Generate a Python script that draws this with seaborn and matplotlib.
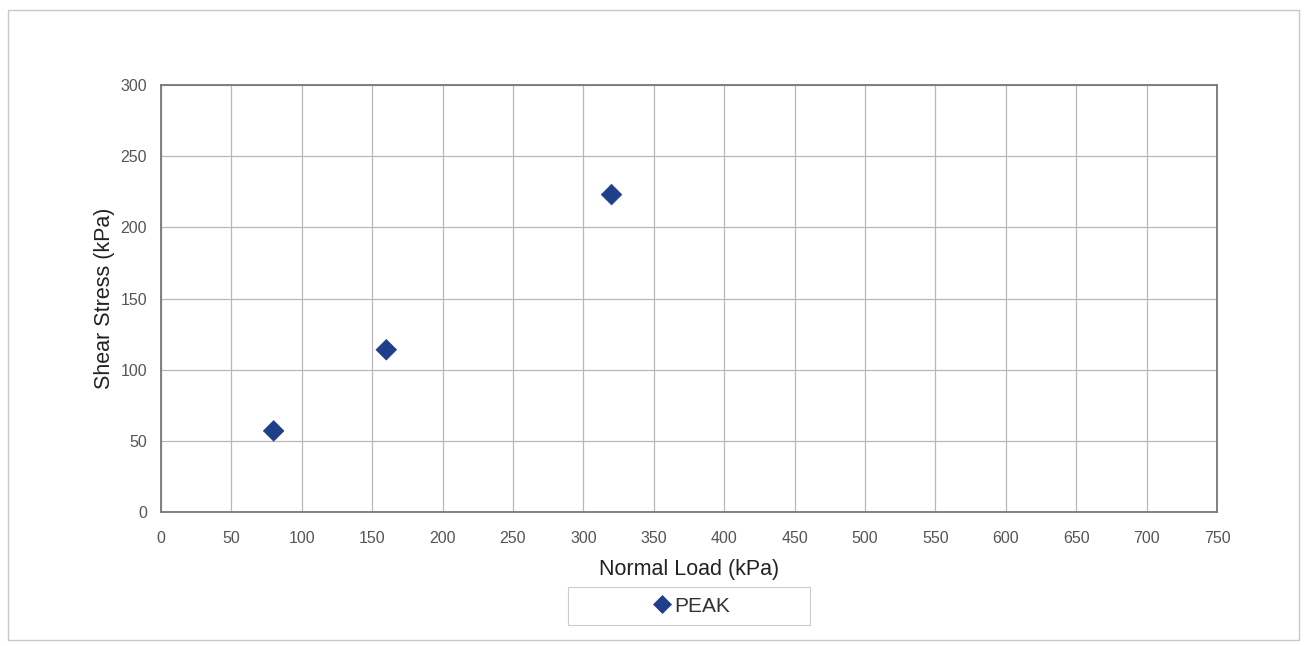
#!/usr/bin/env python3

import matplotlib

matplotlib.use("Agg")
import matplotlib.pyplot as plt
import pandas
import seaborn as sns
from matplotlib.patches import Rectangle

# Direct shear test results (peak)
normal_load = [80, 160, 320]
shear_stress = [57, 114, 223]
series_name = "PEAK"

x_ticks = list(range(0, 751, 50))
y_ticks = list(range(0, 301, 50))


def main():
    sns.set_theme(style="white")
    plt.rcParams["font.family"] = ["Liberation Sans", "DejaVu Sans"]

    df = pandas.DataFrame(
        {"load": normal_load, "stress": shear_stress, "series": series_name}
    )

    fig = plt.figure(figsize=(13.07, 6.46), dpi=100)
    ax = fig.add_axes([0.1232, 0.2074, 0.8079, 0.6610])

    sns.scatterplot(
        data=df,
        x="load",
        y="stress",
        hue="series",
        palette=["#1f3f8a"],
        marker="D",
        s=110,
        edgecolor="#1f3f8a",
        linewidth=0.5,
        ax=ax,
        zorder=3,
    )

    ax.set_xlim(0, 750)
    ax.set_ylim(0, 300)
    ax.set_xticks(x_ticks)
    ax.set_yticks(y_ticks)
    ax.tick_params(labelsize=11.5, colors="#555555", length=0)
    ax.tick_params(axis="x", pad=14)
    ax.tick_params(axis="y", pad=10)
    ax.grid(True, color="#b8b8b8", linewidth=0.9)
    for spine in ax.spines.values():
        spine.set_color("#777777")
        spine.set_linewidth(1.3)

    ax.set_xlabel("Normal Load (kPa)", fontsize=15.5, color="#222222", labelpad=9)
    ax.set_ylabel("Shear Stress (kPa)", fontsize=15.5, color="#222222", labelpad=4)

    # Legend box, wider than its content as in the source chart
    fig.patches.append(
        Rectangle(
            (0.4346, 0.0325),
            0.1852,
            0.0588,
            transform=fig.transFigure,
            fill=False,
            edgecolor="#cccccc",
            linewidth=0.8,
        )
    )
    leg = ax.legend(
        loc="center",
        bbox_to_anchor=(0.528, 0.0619),
        bbox_transform=fig.transFigure,
        fontsize=15,
        frameon=False,
        handletextpad=0.0,
        handlelength=1.2,
        markerscale=0.85,
    )
    for text in leg.get_texts():
        text.set_color("#333333")

    # Outer chart border
    fig.patches.append(
        Rectangle(
            (0.006, 0.009),
            0.988,
            0.975,
            transform=fig.transFigure,
            fill=False,
            edgecolor="#c8c8c8",
            linewidth=1.0,
        )
    )

    fig.savefig("out.png", dpi=100)
    plt.close(fig)


if __name__ == "__main__":
    main()
